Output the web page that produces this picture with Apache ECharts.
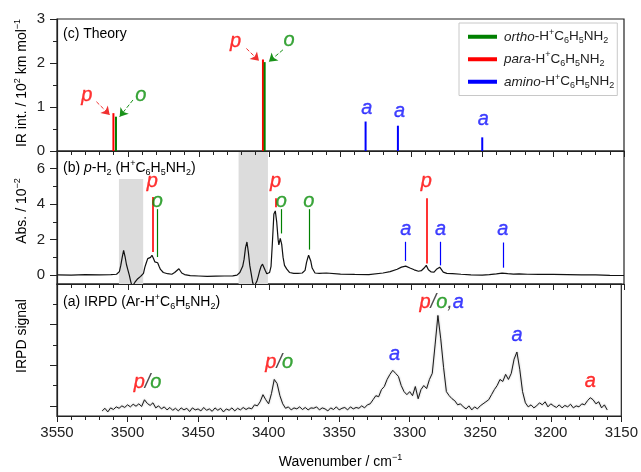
<!DOCTYPE html>
<html><head><meta charset="utf-8">
<script src="https://cdn.jsdelivr.net/npm/echarts@6/dist/echarts.min.js"></script>
<style>html,body{margin:0;padding:0;background:#fff}#c{width:641px;height:472px}</style>
</head><body><div id="c"></div>
<script>
// ================= DATA =================
// (c) Theory: stick spectra (wavenumber, IR intensity / 10^2 km mol^-1)
const orthoX = [3508.4, 3403.5];
const orthoY = [0.78, 2.02];
const paraX  = [3510.2, 3404.7];
const paraY  = [0.86, 2.08];
const aminoX = [3332.3, 3309.5, 3250.0];
const aminoY = [0.67, 0.575, 0.31];

// Theory panel letter labels
const theoryLabelX = [3529.0, 3490.9, 3424.1, 3386.2, 3331.5, 3308.4, 3249.3];
const theoryLabelY = [1.27, 1.27, 2.48, 2.52, 0.97, 0.91, 0.725];
const theoryLabelKind = ['p', 'o', 'p', 'o', 'a', 'a', 'a'];

// Theory panel dashed arrows (from label toward stick top)
const arrowFromX = [3522.2, 3496.4, 3416.4, 3390.6];
const arrowFromY = [1.12, 1.16, 2.33, 2.30];
const arrowToX   = [3512.8, 3505.8, 3407.5, 3400.5];
const arrowToY   = [0.82, 0.78, 2.05, 2.03];
const arrowKind  = ['p', 'o', 'p', 'o'];

// (b) p-H2 absorption spectrum (wavenumber, Abs / 10^-2)
const absSpectrum = [
  [3550,0.02],[3540,0.00],[3530,0.03],[3520,0.01],[3512,0.03],[3508,0.05],[3506,0.20],[3505,0.55],
  [3504,1.00],[3503,1.40],[3502,1.05],[3501,0.60],[3500,0.30],[3499,0.00],[3498,-0.35],[3497,-0.65],
  [3496,-0.60],[3495,-0.40],[3493,-0.20],[3491,-0.07],[3489,0.10],[3488,0.45],[3487,0.70],[3486,0.93],
  [3485,0.84],[3484,1.00],[3483,1.12],[3482,0.95],[3481,0.75],[3480,0.80],[3479,0.70],[3478,0.50],
  [3477,0.32],[3475,0.15],[3472,0.08],[3469,0.05],[3467,0.15],[3466,0.25],[3464,0.36],[3462,0.12],
  [3460,0.03],[3456,-0.03],[3450,-0.05],[3444,-0.07],[3438,-0.06],[3432,-0.05],[3426,-0.04],[3423,0.00],
  [3421,0.15],[3419,0.50],[3418,0.90],[3417,1.55],[3416,1.87],[3415,1.30],[3414,0.55],[3413,0.08],
  [3412,-0.40],[3411,-0.65],[3410,-0.60],[3409,-0.35],[3408,-0.07],[3407,0.25],[3406,0.50],[3405,0.62],
  [3404,0.55],[3403,0.25],[3402,0.08],[3401,0.04],[3400,0.15],[3399,0.50],[3398,1.90],[3397,3.45],
  [3396,3.62],[3395,3.00],[3394,2.00],[3393.5,1.70],[3392.5,2.07],[3391.5,1.75],[3390.5,1.00],[3389.5,0.55],
  [3388,0.35],[3386,0.15],[3383,0.10],[3380,0.10],[3377,0.12],[3375,0.27],[3374,0.70],[3373,1.00],
  [3372.5,1.12],[3372,1.05],[3371,0.80],[3370,0.40],[3368,0.12],[3365,0.10],[3360,0.12],[3350,0.06],
  [3340,0.04],[3330,0.03],[3320,0.12],[3315,0.20],[3310,0.33],[3307,0.45],[3304,0.51],[3301,0.40],
  [3298,0.30],[3295,0.22],[3293,0.25],[3291,0.40],[3289.5,0.55],[3288,0.30],[3286,0.18],[3284,0.17],
  [3282,0.35],[3280,0.45],[3279,0.42],[3277.5,0.17],[3275,0.10],[3271,0.08],[3265,0.05],[3258,0.02],
  [3250,0.00],[3245,0.03],[3240,0.07],[3236,0.11],[3232,0.08],[3228,0.06],[3224,0.07],[3218,0.05],
  [3210,0.04],[3200,0.04],[3190,0.03],[3180,0.02],[3170,0.01],[3160,-0.01],[3150,-0.02]
];

// (b) assignment bars: x, top, bottom, kind
const assignX      = [3482.7, 3479.2, 3395.8, 3391.8, 3372.3, 3304.0, 3289.5, 3279.4, 3235.5];
const assignTop    = [4.40, 3.72, 4.34, 3.72, 3.72, 1.88, 4.34, 1.88, 1.84];
const assignBottom = [1.31, 1.02, 3.83, 2.35, 1.44, 0.80, 0.65, 0.55, 0.42];
const assignKind   = ['p', 'o', 'p', 'o', 'o', 'a', 'p', 'a', 'a'];
const assignLabelY = [5.27, 4.15, 5.27, 4.15, 4.15, 2.57, 5.27, 2.57, 2.57];

// (b) shaded (masked) regions: [from, to, top]
const shadeFrom = [3506.3, 3421.9];
const shadeTo   = [3489.2, 3401.2];
const shadeTop  = [5.42, 7.0];

// (a) IRPD spectrum sampled every 2 cm^-1 starting at 3518 cm^-1
const irpdStart = 3518;
const irpdStep = -2;
const irpdY = [
  /*3518*/ -0.25,-0.12,-0.30,-0.10,-0.18,-0.05,-0.12,0.00,-0.08,0.05,
  /*3498*/ -0.05,0.08,-0.02,0.10,-0.03,0.30,0.12,0.02,0.15,-0.10,
  /*3478*/ 0.00,-0.15,-0.05,-0.20,-0.08,-0.22,-0.12,-0.25,-0.10,-0.20,
  /*3458*/ -0.12,-0.28,-0.10,-0.20,-0.15,-0.25,-0.08,-0.22,-0.15,-0.27,
  /*3438*/ -0.10,-0.22,-0.12,-0.30,-0.15,-0.22,-0.10,-0.25,-0.12,-0.20,
  /*3418*/ -0.08,-0.18,-0.10,-0.15,0.05,0.00,0.20,0.55,0.30,0.10,
  /*3398*/ 0.60,1.30,1.10,0.50,0.10,-0.12,-0.05,-0.20,-0.10,-0.15,
  /*3378*/ -0.05,-0.18,-0.08,-0.20,-0.10,-0.12,-0.05,-0.20,-0.10,-0.15,
  /*3358*/ -0.25,-0.10,-0.18,-0.05,-0.20,-0.12,-0.08,-0.20,-0.05,-0.15,
  /*3338*/ -0.08,-0.12,0.00,-0.10,0.05,0.10,0.30,0.50,0.45,0.80,
  /*3318*/ 0.95,1.30,1.55,1.75,1.60,1.45,1.00,0.70,0.55,0.70,
  /*3298*/ 0.50,0.95,0.35,0.80,1.00,0.85,1.30,1.60,3.00,4.45,
  /*3278*/ 3.30,1.90,0.70,0.50,0.35,0.25,0.05,0.10,-0.05,-0.15,
  /*3258*/ 0.00,-0.20,-0.05,-0.15,0.00,0.10,0.20,0.30,0.55,0.80,
  /*3238*/ 1.00,1.30,1.20,1.55,1.30,1.60,2.30,2.65,1.80,0.70,
  /*3218*/ 0.15,-0.05,0.05,-0.10,0.00,0.15,0.05,0.20,-0.05,0.10,
  /*3198*/ 0.00,-0.08,0.05,-0.10,0.02,-0.05,0.08,-0.10,0.00,-0.05,
  /*3178*/ 0.10,0.05,0.25,0.40,0.30,0.10,0.20,-0.10,0.05,-0.20
];

// (a) IRPD labels (rich markup)
const irpdLabelX = [3485.8, 3392.5, 3310.8, 3277.3, 3223.9, 3172.0];
const irpdLabelY = [1.16, 2.12, 2.54, 5.10, 3.47, 1.18];
const irpdLabelText = ['{p|p}{k|/}{o|o}', '{p|p}{k|/}{o|o}', '{a|a}', '{p|p}{k|/}{o|o}{k|,}{a|a}', '{a|a}', '{p|a}'];

// Axis tick values
const xMin = 3150, xMax = 3550, xStep = 50;
const absMajor = [0, 2, 4, 6], absMinor = [1, 3, 5];
const irpdMajor = [0, 2, 4], irpdMinor = [1, 3, 5];

// ================= STYLE =================
const FONT = '"Liberation Sans", Arial, sans-serif';
const COL = { p: '#ff0000', o: '#008000', a: '#0000ff' };
const TXTCOL = { p: '#ff0000', o: '#0a8f0a', a: '#1010ff' };
const INK = '#222';

function richBase(size, color) {
  const s = Math.round(size * 0.66);
  return {
    n: { fontSize: size, fontFamily: FONT, color: color, lineHeight: size + 4 },
    i: { fontSize: size, fontFamily: FONT, color: color, fontStyle: 'italic', lineHeight: size + 4 },
    sup: { fontSize: s, fontFamily: FONT, color: color, verticalAlign: 'top', lineHeight: s },
    sub: { fontSize: s, fontFamily: FONT, color: color, verticalAlign: 'bottom', lineHeight: s }
  };
}
function letterStyle(c, bw) {
  return { fontSize: 20, fontFamily: FONT, fontStyle: 'italic', color: c, textBorderColor: c, textBorderWidth: bw };
}
const letterRich = { p: letterStyle(TXTCOL.p, 0.35), o: letterStyle(TXTCOL.o, 0.35), a: letterStyle(TXTCOL.a, 0.35), k: letterStyle(INK, 0) };

const legendText = {
  ortho: '{i|ortho}{n|-H}{sup|+}{n|C}{sub|6}{n|H}{sub|5}{n|NH}{sub|2}',
  para: '{i|para}{n|-H}{sup|+}{n|C}{sub|6}{n|H}{sub|5}{n|NH}{sub|2}',
  amino: '{i|amino}{n|-H}{sup|+}{n|C}{sub|6}{n|H}{sub|5}{n|NH}{sub|2}'
};

function xAx(gi, showLabels) {
  return {
    type: 'value', gridIndex: gi, min: xMin, max: xMax, interval: xStep, inverse: true, z: 5,
    axisLine: { show: true, onZero: false, lineStyle: { color: INK, width: 1.2 } },
    axisTick: { show: true, inside: false, length: 6, lineStyle: { color: INK, width: 1 } },
    minorTick: { show: true, splitNumber: 5, length: 4, lineStyle: { color: INK, width: 1 } },
    axisLabel: { show: showLabels, margin: 9, fontSize: 15, color: INK, fontFamily: FONT, showMinLabel: true, showMaxLabel: true, formatter: v => String(v) },
    splitLine: { show: false }, minorSplitLine: { show: false }
  };
}
function yAx(gi, min, max, ticks, showLine, showLabels, len) {
  return {
    type: 'value', gridIndex: gi, min: min, max: max, position: 'left', offset: 0, z: 5,
    axisLine: { show: showLine, onZero: false, lineStyle: { color: INK, width: 1.2 } },
    axisTick: { show: true, inside: false, length: len, customValues: ticks, lineStyle: { color: INK, width: 1 } },
    axisLabel: { show: showLabels, customValues: ticks, margin: 12, fontSize: 15, color: INK, fontFamily: FONT, formatter: v => String(v) },
    splitLine: { show: false }
  };
}

const chart = echarts.init(document.getElementById('c'), null, { renderer: 'canvas' });

const irpdData = irpdY.map((v, i) => [irpdStart + i * irpdStep, v]);

const labelSeriesBase = {
  type: 'scatter', symbolSize: 0, itemStyle: { color: '#000' }, silent: true, z: 6
};

const option = {
  animation: false,
  backgroundColor: '#fff',
  grid: [
    { left: 57, right: 17, top: 19, height: 132, show: true, borderColor: INK, borderWidth: 1.2, backgroundColor: 'transparent' },
    { left: 57, right: 17, top: 151, height: 133, show: true, borderColor: INK, borderWidth: 1.2, backgroundColor: 'transparent' },
    { left: 57, right: 17, top: 284, height: 132, show: true, borderColor: INK, borderWidth: 1.2, backgroundColor: 'transparent' }
  ],
  xAxis: [xAx(0, false), xAx(1, false), xAx(2, true)],
  yAxis: [
    Object.assign(yAx(0, 0, 3, null, true, true, 7), {
      interval: 1,
      axisTick: { show: true, inside: false, length: 7, lineStyle: { color: INK, width: 1 } },
      axisLabel: { show: true, margin: 12, fontSize: 15, color: INK, fontFamily: FONT },
      minorTick: { show: true, splitNumber: 2, length: 4, lineStyle: { color: INK, width: 1 } }
    }),
    yAx(1, -0.5, 7, absMajor, true, true, 7),
    yAx(1, -0.5, 7, absMinor, false, false, 4),
    yAx(2, -0.5, 6, irpdMajor, true, false, 7),
    yAx(2, -0.5, 6, irpdMinor, false, false, 4)
  ],
  legend: {
    orient: 'vertical', left: 459, top: 23, padding: [5, 3, 5, 9], itemGap: 5,
    itemWidth: 29, itemHeight: 4, icon: 'rect',
    borderColor: '#c8c8c8', borderWidth: 1, backgroundColor: '#fff',
    data: ['ortho', 'para', 'amino'],
    selectedMode: false,
    formatter: name => legendText[name],
    textStyle: { fontSize: 13.5, fontFamily: FONT, color: INK, padding: [0, 0, 0, 2], rich: richBase(13.5, INK) }
  },
  graphic: [
    { type: 'text', x: 63, y: 34, style: { text: '{n|(c) Theory}', rich: richBase(14, INK), align: 'left', verticalAlign: 'middle' } },
    { type: 'text', x: 63, y: 168, style: { text: '{n|(b) }{i|p}{n|-H}{sub|2}{n| (H}{sup|+}{n|C}{sub|6}{n|H}{sub|5}{n|NH}{sub|2}{n|)}', rich: richBase(14, INK), align: 'left', verticalAlign: 'middle' } },
    { type: 'text', x: 63, y: 302, style: { text: '{n|(a) IRPD (Ar-H}{sup|+}{n|C}{sub|6}{n|H}{sub|5}{n|NH}{sub|2}{n|)}', rich: richBase(14, INK), align: 'left', verticalAlign: 'middle' } },
    { type: 'text', x: 22, y: 83, rotation: Math.PI / 2, style: { text: '{n|IR int. / 10}{sup|2}{n| km mol}{sup|−1}', rich: richBase(14, INK), align: 'center', verticalAlign: 'middle' } },
    { type: 'text', x: 22, y: 211, rotation: Math.PI / 2, style: { text: '{n|Abs. / 10}{sup|−2}', rich: richBase(14, INK), align: 'center', verticalAlign: 'middle' } },
    { type: 'text', x: 22, y: 336, rotation: Math.PI / 2, style: { text: '{n|IRPD signal}', rich: richBase(14, INK), align: 'center', verticalAlign: 'middle' } },
    { type: 'text', x: 340.5, y: 462, style: { text: '{n|Wavenumber / cm}{sup|−1}', rich: richBase(14, INK), align: 'center', verticalAlign: 'middle' } }
  ],
  series: [
    {
      name: 'ortho', type: 'bar', xAxisIndex: 0, yAxisIndex: 0, barWidth: 2, barGap: '-100%',
      itemStyle: { color: COL.o }, data: orthoX.map((x, i) => [x, orthoY[i]]), z: 3,
      markLine: {
        silent: true, symbol: ['none', 'arrow'], symbolSize: 8, label: { show: false },
        lineStyle: { type: 'dashed', width: 1, color: '#1a921a' },
        data: arrowKind.map((k, i) => k === 'o' ? [{ coord: [arrowFromX[i], arrowFromY[i]] }, { coord: [arrowToX[i], arrowToY[i]] }] : null).filter(Boolean)
      }
    },
    {
      name: 'para', type: 'bar', xAxisIndex: 0, yAxisIndex: 0, barWidth: 2, barGap: '-100%',
      itemStyle: { color: COL.p }, data: paraX.map((x, i) => [x, paraY[i]]), z: 2,
      markLine: {
        silent: true, symbol: ['none', 'arrow'], symbolSize: 8, label: { show: false },
        lineStyle: { type: 'dashed', width: 1, color: '#f03030' },
        data: arrowKind.map((k, i) => k === 'p' ? [{ coord: [arrowFromX[i], arrowFromY[i]] }, { coord: [arrowToX[i], arrowToY[i]] }] : null).filter(Boolean)
      }
    },
    {
      name: 'amino', type: 'bar', xAxisIndex: 0, yAxisIndex: 0, barWidth: 2, barGap: '-100%',
      itemStyle: { color: COL.a }, data: aminoX.map((x, i) => [x, aminoY[i]])
    },
    Object.assign({}, labelSeriesBase, {
      xAxisIndex: 0, yAxisIndex: 0,
      data: theoryLabelX.map((x, i) => [x, theoryLabelY[i], theoryLabelKind[i]]),
      label: { show: true, position: 'inside', formatter: p => '{' + p.data[2] + '|' + p.data[2] + '}', rich: letterRich }
    }),
    {
      type: 'line', xAxisIndex: 1, yAxisIndex: 1, showSymbol: false, symbol: 'none', clip: true,
      lineStyle: { color: '#111', width: 1.2 }, data: absSpectrum, z: 3,
      markArea: {
        silent: true, itemStyle: { color: '#dcdcdc' }, label: { show: false },
        data: shadeFrom.map((f, i) => [{ coord: [f, shadeTop[i]] }, { coord: [shadeTo[i], -0.5] }])
      },
      markLine: {
        silent: true, symbol: ['none', 'none'], label: { show: false },
        data: assignX.map((x, i) => {
          const k = assignKind[i];
          const ls = { color: COL[k], width: k === 'p' ? 1.6 : 1.2, type: 'solid' };
          return [{ coord: [x, assignTop[i]], lineStyle: ls }, { coord: [x, assignBottom[i]], lineStyle: ls }];
        })
      }
    },
    Object.assign({}, labelSeriesBase, {
      xAxisIndex: 1, yAxisIndex: 1,
      data: assignX.map((x, i) => [x, assignLabelY[i], assignKind[i]]),
      label: { show: true, position: 'inside', formatter: p => '{' + p.data[2] + '|' + p.data[2] + '}', rich: letterRich }
    }),
    {
      type: 'line', xAxisIndex: 2, yAxisIndex: 3, showSymbol: false, symbol: 'none',
      lineStyle: { color: '#1a1a1a', width: 1, shadowColor: 'rgba(0,0,0,0.35)', shadowBlur: 2 }, data: irpdData
    },
    Object.assign({}, labelSeriesBase, {
      xAxisIndex: 2, yAxisIndex: 3,
      data: irpdLabelX.map((x, i) => [x, irpdLabelY[i], irpdLabelText[i]]),
      label: { show: true, position: 'inside', formatter: p => p.data[2], rich: letterRich }
    })
  ]
};
chart.setOption(option);
</script>
</body></html>
